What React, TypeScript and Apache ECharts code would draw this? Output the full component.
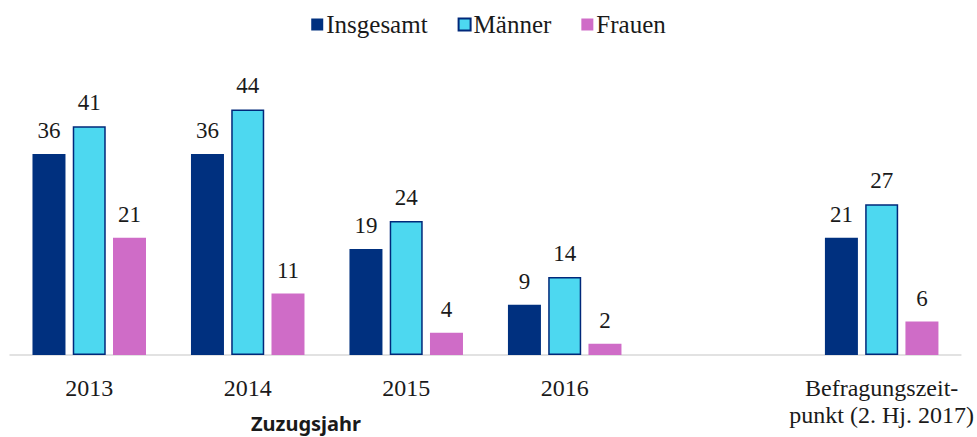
import React, { useEffect, useRef } from "react";
import * as echarts from "echarts";

const categories = ["2013", "2014", "2015", "2016", "", "Befragungszeit-\npunkt (2. Hj. 2017)"];
const insgesamt = [36, 36, 19, 9, null, 21];
const maenner = [41, 44, 24, 14, null, 27];
const frauen = [21, 11, 4, 2, null, 6];
const axisTitle = "Zuzugsjahr";

const FONT = "Liberation Serif";

export default function App() {
  const ref = useRef<HTMLDivElement>(null);
  useEffect(() => {
    const chart = echarts.init(ref.current!, null, { renderer: "svg" });
    const label = {
      show: true,
      position: "top" as const,
      distance: 12,
      fontFamily: FONT,
      fontSize: 23,
      color: "#1a1a1a",
    };
    chart.setOption({
      animation: false,
      legend: {
        top: 7,
        left: "center",
        itemWidth: 12,
        itemHeight: 12,
        itemGap: 30,
        icon: "rect",
        textStyle: { fontFamily: FONT, fontSize: 25, color: "#1a1a1a", padding: [0, 0, 0, -2] },
        data: ["Insgesamt", "Männer", "Frauen"],
      },
      grid: { left: 10, right: 16, top: 76, bottom: 82 },
      xAxis: {
        type: "category",
        data: categories,
        axisLine: { lineStyle: { color: "#d9d9d9", width: 1.5 } },
        axisTick: { show: false },
        axisLabel: {
          fontFamily: FONT,
          fontSize: 24,
          color: "#1a1a1a",
          margin: 19,
          lineHeight: 27,
          interval: 0,
        },
      },
      yAxis: { type: "value", min: 0, max: 50, show: false, splitLine: { show: false } },
      series: [
        {
          name: "Insgesamt",
          type: "bar",
          data: insgesamt,
          barWidth: 33,
          barGap: "22%",
          itemStyle: { color: "#00307f" },
          label,
        },
        {
          name: "Männer",
          type: "bar",
          data: maenner,
          barWidth: 33,
          barGap: "22%",
          itemStyle: { color: "#4dd8f0", borderColor: "#00287a", borderWidth: 1.5 },
          label,
        },
        {
          name: "Frauen",
          type: "bar",
          data: frauen,
          barWidth: 33,
          barGap: "22%",
          itemStyle: { color: "#cf6cc7" },
          label,
        },
      ],
      graphic: [
        {
          type: "text",
          left: 251,
          top: 413,
          style: {
            text: axisTitle,
            fontFamily: "Noto Sans",
            fontWeight: "bold",
            fontSize: 20,
            fill: "#1a1a1a",
          },
        },
      ],
    });
    return () => chart.dispose();
  }, []);
  return <div ref={ref} style={{ width: 977, height: 437, position: "absolute", left: 0, top: 0 }} />;
}
